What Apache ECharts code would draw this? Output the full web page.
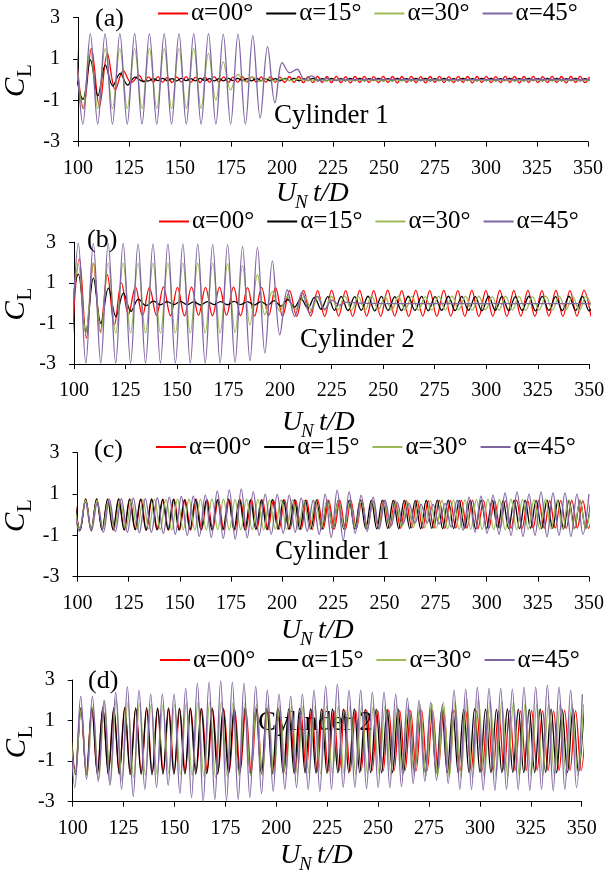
<!DOCTYPE html>
<html><head><meta charset="utf-8">
<script src="https://cdn.jsdelivr.net/npm/echarts@6/dist/echarts.min.js"></script>
<style>html,body{margin:0;padding:0;background:#fff}#c{width:608px;height:877px}</style>
</head><body><div id="c"></div>
<script>
// ---------- labels ----------
const SERIES_NAMES = ['α=00°', 'α=15°', 'α=30°', 'α=45°'];
const PANEL_LABELS = ['(a)', '(b)', '(c)', '(d)'];
const CYL_LABELS = ['Cylinder 1', 'Cylinder 2', 'Cylinder 1', 'Cylinder 2'];
const Y_TICKS = [-3, -1, 1, 3];
const X_MIN = 100, X_MAX = 350, X_STEP = 25;

// ---------- data: each series = segments [startTime, halfPeriod, extremum values] ----------
// Panel (a) Cylinder 1
const aRed = [
  [98.8, 3.9, [1.6,-1.4,1.5,-1.3,1.27,-0.5,0.43,-0.15,0.2]],
  [132.3, 2.3, [-0.12,0.13,-0.12,0.14,-0.13,0.12,-0.14,0.13,-0.12,0.14,
    -0.13,0.12,-0.14,0.13,-0.13,0.14,-0.12,0.13,-0.14,0.12,
    -0.13,0.14,-0.12,0.13,-0.14,0.13,-0.12,0.14,-0.13,0.12,
    -0.14,0.15,-0.14,0.15,-0.15,0.14,-0.15,0.16,-0.14,0.15,
    -0.15,0.16,-0.15,0.14,-0.16,0.15,-0.14,0.16,-0.15,0.14,
    -0.15,0.16,-0.14,0.15,-0.16,0.15,-0.14,0.16,-0.15,0.14,
    -0.16,0.15,-0.14,0.16,-0.15,0.14,-0.15,0.16,-0.14,0.15,
    -0.16,0.15,-0.14,0.16,-0.15,0.14,-0.15,0.16,-0.14,0.15,
    -0.16,0.15,-0.14,0.16,-0.15,0.14,-0.15,0.16,-0.14,0.15,
    -0.16,0.15,-0.14,0.16,-0.15,0.14]]
];
const aBlack = [
  [98.8, 3.65, [0.3,-0.95,0.95,-0.79,0.7,-0.3,0.3,-0.26,0.12,-0.08]],
  [134.6, 2.3, [-0.06,0.05,-0.05,0.06,-0.06,0.05,-0.06,0.06,-0.05,0.05,
    -0.06,0.06,-0.05,0.05,-0.06,0.05,-0.06,0.06,-0.05,0.06,
    -0.05,0.05,-0.06,0.06,-0.05,0.05,-0.06,0.05,-0.06,0.06,
    -0.05,0.06,-0.06,0.05,-0.05,0.06,-0.06,0.05,-0.06,0.06,
    -0.05,0.05,-0.06,0.06,-0.05,0.06,-0.06,0.05,-0.05,0.06,
    -0.06,0.05,-0.06,0.06,-0.05,0.05,-0.06,0.06,-0.05,0.06,
    -0.06,0.05,-0.05,0.06,-0.06,0.05,-0.06,0.06,-0.05,0.05,
    -0.06,0.06,-0.05,0.06,-0.06,0.05,-0.05,0.06,-0.06,0.05,
    -0.06,0.06,-0.05,0.05,-0.06,0.06,-0.05,0.06,-0.06,0.05,
    -0.05,0.06,-0.06,0.05,-0.06]]
];
const aGreen = [
  [98.8, 3.62, [1.5,-1.4,1.5,-1.4,1.5,-1.4,1.5,-1.4,1.5,-1.4,1.5,-1.4,1.5,-1.4,1.5,-1.4,
    1.5,-1.39,1.27,-0.99,0.86,-0.5,0.25,-0.1,0.12,-0.08,0.06,-0.06,0.04,-0.05,0.02]],
  [212, 20, [-0.03,-0.02,-0.03,-0.02,-0.03,-0.02,-0.03,-0.02]]
];
const aPurple = [
  [98.8, 3.62, [2.2,-2.15,2.22,-2.15,2.22,-2.15,2.22,-2.15,2.22,-2.15,2.22,-2.15,
    2.22,-2.15,2.22,-2.15,2.22,-2.15,2.22,-2.15,2.2,-2.15,2.2,-2.15,
    2.12,-1.86,1.59,-1.12,0.82,0.33,0.5,0.0,0.18,-0.05,0.06,-0.03]],
  [232, 20, [0.0,0.01,-0.01,0.0,0.0,0.01,0.0,0.0]]
];

// Panel (b) Cylinder 2
const bRed = [
  [99.2, 3.4, [-1.6,2.2,-1.72,1.97,-1.4,1.4,-1.07,1.0,-0.55,
    0.8,-0.62,0.78,-0.6,0.8,-0.63,0.78,-0.62,0.8,-0.6,0.78,-0.62,0.79,-0.6,0.8,-0.62,0.77,-0.63,0.78,-0.62,0.76,
    -0.64,0.62,-0.65,0.63,-0.64,0.62,-0.66,0.63,-0.64,0.62,
    -0.65,0.63,-0.64,0.62,-0.65,0.64,-0.64,0.62,-0.66,0.63,
    -0.64,0.62,-0.65,0.63,-0.64,0.62,-0.65,0.63,-0.66,0.62,
    -0.64,0.63,-0.65,0.62,-0.64,0.63,-0.65,0.62,-0.64,0.63,
    -0.65,0.62,-0.64,0.63,-0.65]]
];
const bBlack = [
  [98.45, 3.65, [-0.5,1.43,-1.4,1.23,-1.0,0.74,-0.66,0.49,-0.4,0.2,-0.12,0.1]],
  [141.9, 3.25, [-0.08,0.08,-0.07,0.09,-0.08,0.07,-0.09,0.08,-0.07,0.08,-0.08,0.09,-0.07,0.08,-0.09,0.08,-0.1,
    0.12,-0.15,0.18,-0.2,0.22,-0.25,0.28,-0.3,
    0.32,-0.36,0.33,-0.37,0.32,-0.35,0.34,-0.38,0.33,-0.36,
    0.32,-0.37,0.34,-0.36,0.33,-0.38,0.32,-0.36,0.34,-0.37,
    0.33,-0.36,0.32,-0.38,0.34,-0.36,0.33,-0.37,0.32,-0.36,
    0.34,-0.38,0.33,-0.36,0.32,-0.37,0.34,-0.36,0.33,-0.38,
    0.32]]
];
const bGreen = [
  [98.5, 3.62, [-1.3,1.9,-1.48,1.97,-1.48,1.97,-1.48,1.97,-1.48,1.97,-1.48,1.97,-1.48,1.97,
    -1.48,1.97,-1.48,1.97,-1.48,1.97,-1.48,1.95,-1.45,1.85,-1.07,1.4,-0.57,0.57,-0.4,0.35,-0.33]],
  [211.9, 3.25, [0.33,-0.34,0.32,-0.35,0.34,-0.33,0.35,-0.34,0.33,-0.35,
    0.34,-0.33,0.32,-0.35,0.34,-0.34,0.33,-0.35,0.32,-0.34,
    0.34,-0.33,0.35,-0.34,0.33,-0.35,0.34,-0.33,0.32,-0.35,
    0.34,-0.34,0.33,-0.35,0.32,-0.34,0.34,-0.33,0.35,-0.34,
    0.33,-0.35,0.34,-0.33]]
];
const bPurple = [
  [98.5, 3.62, [-2.9,2.95,-2.95,2.95,-2.95,2.95,-2.95,2.95,-2.95,2.92,-2.95,2.92,-2.95,2.92,
    -2.95,2.92,-2.95,2.92,-2.95,2.9,-2.95,2.9,-2.92,2.8,-2.84,2.75,-2.46,2.08,-1.56,
    0.66,-0.66,0.55,-0.5,0.35,-0.3,0.15,-0.1,0.05]],
  [238, 20, [0.0,-0.02,-0.02,-0.02,-0.02,-0.02,-0.02]]
];

// Panel (c) Cylinder 1
const cRed = [
  [98.6, 2.7, [0.74,-0.72,0.76,-0.75,0.75,-0.73,0.77,-0.74,0.75,-0.72,
    0.74,-0.73,0.76,-0.74,0.73,-0.72,0.75,-0.75,0.74,-0.73,
    0.72,-0.74,0.75,-0.72,0.73,-0.71,0.74,-0.73,0.72,-0.74,
    0.73,-0.72,0.74,-0.7,0.72,-0.73,0.71,-0.72,0.73,-0.7,
    0.72,-0.71,0.7,-0.72,0.74,-0.7,0.71,-0.69,0.7,-0.72,
    0.69,-0.68,0.7,-0.66,0.68,-0.67,0.7,-0.65,0.68,-0.66,
    0.69,-0.64,0.7,-0.66,0.68,-0.65,0.7,-0.67,0.69,-0.65,
    0.71,-0.66,0.7,-0.68,0.69,-0.66,0.7,-0.65,0.68,-0.66,
    0.7,-0.67,0.69,-0.65,0.7,-0.66,0.68,-0.65,0.69,-0.66,
    0.7,-0.65,0.68,-0.66,0.69]]
];
const cBlack = [
  [98.6, 2.685, [0.72,-0.74,0.75,-0.73,0.77,-0.75,0.74,-0.72,0.76,-0.74,
    0.75,-0.72,0.74,-0.75,0.76,-0.73,0.74,-0.72,0.75,-0.74,
    0.73,-0.72,0.74,-0.73,0.72,-0.74,0.73,-0.71,0.75,-0.72,
    0.74,-0.73,0.72,-0.71,0.73,-0.72,0.74,-0.7,0.72,-0.71,
    0.73,-0.72,0.71,-0.7,0.72,-0.71,0.7,-0.72,0.71,-0.7,
    0.7,-0.69,0.72,-0.68,0.7,-0.69,0.71,-0.67,0.7,-0.68,
    0.71,-0.67,0.69,-0.68,0.7,-0.66,0.71,-0.68,0.7,-0.67,
    0.69,-0.66,0.7,-0.68,0.71,-0.67,0.7,-0.66,0.69,-0.67,
    0.7,-0.68,0.71,-0.66,0.69,-0.67,0.7,-0.66,0.71,-0.68,
    0.69,-0.67,0.7,-0.66,0.7]]
];
const cGreen = [
  [98.3, 2.81, [0.7,-0.68,0.72,-0.7,0.71,-0.69,0.73,-0.7,0.72,-0.71,
    0.74,-0.72,0.73,-0.7,0.75,-0.72,0.74,-0.73,0.75,-0.72,
    0.76,-0.74,0.75,-0.73,0.76,-0.72,0.75,-0.74,0.74,-0.73,
    0.75,-0.72,0.74,-0.73,0.72,-0.7,0.73,-0.71,0.72,-0.7,
    0.7,-0.68,0.69,-0.67,0.7,-0.66,0.68,-0.65,0.66,-0.64,
    0.65,-0.62,0.64,-0.6,0.62,-0.6,0.63,-0.61,0.64,-0.62,
    0.66,-0.64,0.68,-0.66,0.7,-0.68,0.72,-0.7,0.73,-0.71,
    0.74,-0.72,0.75,-0.72,0.74,-0.73,0.75,-0.72,0.74,-0.71,
    0.73,-0.72,0.74,-0.7,0.72,-0.71,0.73,-0.7,0.72,-0.7,
    0.71]]
];
const cPurple = [
  [98.0, 2.93, [0.55,-0.8,0.6,-0.8,0.6,
    -0.85,0.75,-0.82,0.78,-0.85,0.8,-0.88,0.78,-0.85,0.82,-0.9,0.85,
    -0.95,0.88,-1.0,0.9,-1.05,0.95,
    -1.1,1.15,-1.15,1.2,-1.18,1.25,-1.12,1.1,
    -1.0,1.0,-0.95,0.98,-0.9,0.95,-0.85,0.8,-0.8,0.7,
    -0.95,1.0,-1.1,1.19,-1.24,1.1,
    -0.9,0.95,-0.8,0.85,-0.7,0.7,
    -0.55,0.6,-0.45,0.55,-0.4,0.5,-0.4,0.5,-0.45,0.55,
    -0.6,0.7,-0.75,0.85,-0.85,0.9,-0.9,0.95,
    -0.95,1.05,-1.0,1.1,-1.05,1.0,-1.0,1.1,-1.07,1.05,-1.0,1.05,-1.05,1.0,-0.95,1.0]]
];

// Panel (d) Cylinder 2
const dRed = [
  [98.6, 2.7, [1.55,-1.5,1.57,-1.52,1.56,-1.55,1.58,-1.53,1.55,-1.54,
    1.57,-1.52,1.56,-1.55,1.54,-1.53,1.57,-1.5,1.55,-1.52,
    1.56,-1.54,1.55,-1.52,1.57,-1.53,1.55,-1.5,1.56,-1.52,
    1.54,-1.5,1.55,-1.53,1.56,-1.51,1.54,-1.52,1.55,-1.5,
    1.53,-1.5,1.52,-1.48,1.54,-1.5,1.52,-1.49,1.5,-1.47,
    1.52,-1.48,1.5,-1.46,1.51,-1.47,1.5,-1.48,1.52,-1.46,
    1.5,-1.45,1.49,-1.47,1.5,-1.46,1.48,-1.45,1.5,-1.47,
    1.49,-1.46,1.5,-1.45,1.48,-1.47,1.5,-1.46,1.49,-1.45,
    1.5,-1.47,1.48,-1.46,1.5,-1.45,1.49,-1.47,1.48,-1.46,
    1.5,-1.45,1.49,-1.46,1.48]]
];
const dBlack = [
  [98.7, 2.685, [1.62,-1.66,1.64,-1.68,1.63,-1.65,1.66,-1.67,1.62,-1.64,
    1.65,-1.66,1.63,-1.65,1.64,-1.67,1.62,-1.64,1.63,-1.65,
    1.61,-1.63,1.62,-1.64,1.6,-1.62,1.63,-1.64,1.61,-1.63,
    1.6,-1.62,1.62,-1.6,1.61,-1.62,1.6,-1.61,1.62,-1.6,
    1.58,-1.6,1.6,-1.58,1.57,-1.59,1.58,-1.6,1.57,-1.58,
    1.56,-1.58,1.57,-1.56,1.55,-1.57,1.56,-1.58,1.55,-1.56,
    1.57,-1.58,1.55,-1.57,1.56,-1.55,1.57,-1.56,1.55,-1.57,
    1.56,-1.58,1.55,-1.56,1.57,-1.55,1.56,-1.57,1.55,-1.56,
    1.57,-1.55,1.56,-1.57,1.55,-1.56,1.57,-1.55,1.56,-1.57,
    1.55,-1.56,1.57,-1.55,1.56]]
];
const dGreen = [
  [98.4, 2.87, [1.5,-1.6,1.55,-1.7,1.7,-1.9,2.0,-2.1,
    2.07,-2.0,1.9,-1.8,1.85,-1.7,1.8,-1.65,
    1.75,-1.6,1.8,-1.65,1.85,-1.7,1.9,-1.75,1.9,-1.8,
    1.9,-1.75,1.88,-1.7,1.85,-1.72,1.8,-1.7,1.78,-1.68,
    1.75,-1.65,1.7,-1.62,1.72,-1.6,1.7,-1.62,1.68,-1.6,
    1.7,-1.62,1.72,-1.65,1.7,-1.6,1.68,-1.62,1.7,-1.65,
    1.72,-1.68,1.75,-1.7,1.8,-1.72,1.85,-1.75,1.9,-1.78,
    1.95,-1.8,2.05,-1.82,2.07,-1.8,2.0,-1.78,1.95,-1.75,
    1.9,-1.72,1.85,-1.7,1.82,-1.7,1.8,-1.72,1.85,-1.7,1.82,-1.7,1.8]]
];
const dPurple = [
  [98.2, 2.865, [1.9,-2.3,2.2,-1.9,2.2,-2.0,2.0,-2.2,
    2.4,-2.4,2.67,-2.75,2.5,-2.4,2.3,-2.3,
    2.3,-2.2,2.3,-2.6,2.6,-2.8,2.85,-3.0,
    2.9,-2.9,2.95,-2.95,2.9,-2.9,2.85,-2.8,2.7,-2.6,
    2.5,-2.5,2.3,-2.4,2.2,-2.3,2.3,-2.4,2.5,-2.5,
    2.7,-2.4,2.8,-2.3,2.5,-2.3,2.5,-2.35,2.4,-2.3,
    2.4,-2.3,2.3,-2.25,2.1,-2.1,2.0,-2.0,1.9,-1.95,
    1.8,-2.1,2.5,-2.4,2.55,-2.4,2.65,-2.45,2.6,-2.45,
    2.6,-2.4,2.55,-2.4,2.65,-2.45,2.65,-2.4,2.75,-2.45,2.65,-2.4,2.5,-2.3,2.3]]
];

const PANEL_DATA = [
  [aRed, aBlack, aGreen, aPurple],
  [bRed, bBlack, bGreen, bPurple],
  [cRed, cBlack, cGreen, cPurple],
  [dRed, dBlack, dGreen, dPurple]
];

// ---------- styling / layout ----------
const COLORS = ['#FF0000', '#000000', '#9BBB59', '#8064A2'];
const FONT = '"Liberation Serif", "Times New Roman", serif';
const GRIDS = [
  {left: 78, top: 17.5, width: 510, height: 124.2},
  {left: 74, top: 242.3, width: 515.3, height: 121.7},
  {left: 77.5, top: 452.7, width: 511.5, height: 124},
  {left: 72.7, top: 680, width: 509, height: 121.7}
];
const LEGEND_POS = [[158, 1], [159, 209], [156, 434.5], [160, 647.5]];
const PANEL_LABEL_POS = [[95, 19], [87, 240], [94, 450], [88, 681]];
const CYL_POS = [[274, 116], [300, 340], [275, 552], [258, 723]];
const XTITLE_POS = [[276, 194], [282, 422.5], [281, 631], [280, 856]];
const YTITLE_POS = [[16, 97], [16, 320.6], [16, 532], [17, 758.3]];

function expand(segs) {
  const out = [];
  segs.forEach(([t0, hd, vals]) => {
    vals.forEach((v, i) => out.push([+(t0 + hd * i).toFixed(3), v]));
  });
  return out;
}

const grid = [], xAxis = [], yAxis = [], series = [], legend = [], graphic = [];
GRIDS.forEach((g, p) => {
  grid.push(Object.assign({containLabel: false, outerBoundsMode: 'none'}, g));
  xAxis.push({
    type: 'value', gridIndex: p, min: X_MIN, max: X_MAX, interval: X_STEP,
    axisLine: {show: true, onZero: false, lineStyle: {color: '#000', width: 1}},
    axisTick: {show: true, inside: false, length: 5, lineStyle: {color: '#000', width: 1}},
    axisLabel: {show: true, margin: 17, color: '#000', fontFamily: FONT, fontSize: 20},
    splitLine: {show: false}
  });
  yAxis.push({
    type: 'value', gridIndex: p, min: -3, max: 3,
    axisLine: {show: true, onZero: false, lineStyle: {color: '#000', width: 1}},
    axisTick: {show: true, inside: false, length: 5, customValues: Y_TICKS, lineStyle: {color: '#000', width: 1}},
    axisLabel: {show: true, margin: 18, color: '#000', fontFamily: FONT, fontSize: 20, customValues: Y_TICKS},
    splitLine: {show: false}
  });
  PANEL_DATA[p].forEach((segs, s) => {
    series.push({
      name: SERIES_NAMES[s], type: 'line', xAxisIndex: p, yAxisIndex: p,
      data: expand(segs), smooth: 0.36, symbol: 'none', showSymbol: false,
      clip: true, color: COLORS[s],
      lineStyle: {color: COLORS[s], width: 1.3}, z: 2 + s
    });
  });
  legend.push({
    data: SERIES_NAMES, left: LEGEND_POS[p][0], top: LEGEND_POS[p][1], padding: 0,
    orient: 'horizontal', icon: 'rect', itemWidth: 30, itemHeight: 2, itemGap: 13,
    textStyle: {color: '#000', fontFamily: FONT, fontSize: 25, padding: [0, 0, 0, -2]},
    selectedMode: false
  });
  graphic.push({type: 'text', x: PANEL_LABEL_POS[p][0], y: PANEL_LABEL_POS[p][1], z: 10,
    style: {text: PANEL_LABELS[p], fontFamily: FONT, fontSize: 26, fill: '#000', align: 'left', verticalAlign: 'middle'}});
  graphic.push({type: 'text', x: CYL_POS[p][0], y: CYL_POS[p][1], z: 1,
    style: {text: CYL_LABELS[p], fontFamily: FONT, fontSize: 27, fill: '#000', align: 'left', verticalAlign: 'middle'}});
  graphic.push({type: 'group', x: XTITLE_POS[p][0], y: XTITLE_POS[p][1], children: [
    {type: 'text', x: 0, y: 0, style: {text: 'U', fontFamily: FONT, fontStyle: 'italic', fontSize: 28, fill: '#000', align: 'left', verticalAlign: 'middle'}},
    {type: 'text', x: 19, y: 9, style: {text: 'N', fontFamily: FONT, fontStyle: 'italic', fontSize: 19, fill: '#000', align: 'left', verticalAlign: 'middle'}},
    {type: 'text', x: 37, y: 0, style: {text: 't/D', fontFamily: FONT, fontStyle: 'italic', fontSize: 28, fill: '#000', align: 'left', verticalAlign: 'middle'}}
  ]});
  graphic.push({type: 'group', x: YTITLE_POS[p][0], y: YTITLE_POS[p][1], rotation: Math.PI / 2, children: [
    {type: 'text', x: 0, y: 0, style: {text: 'C', fontFamily: FONT, fontStyle: 'italic', fontSize: 29, fill: '#000', align: 'left', verticalAlign: 'middle'}},
    {type: 'text', x: 20, y: 9, style: {text: 'L', fontFamily: FONT, fontSize: 21, fill: '#000', align: 'left', verticalAlign: 'middle'}}
  ]});
});

const chart = echarts.init(document.getElementById('c'), null, {renderer: 'canvas'});
chart.setOption({
  backgroundColor: '#fff', animation: false,
  grid, xAxis, yAxis, series, legend, graphic,
  tooltip: {show: false}
});
</script>
</body></html>
